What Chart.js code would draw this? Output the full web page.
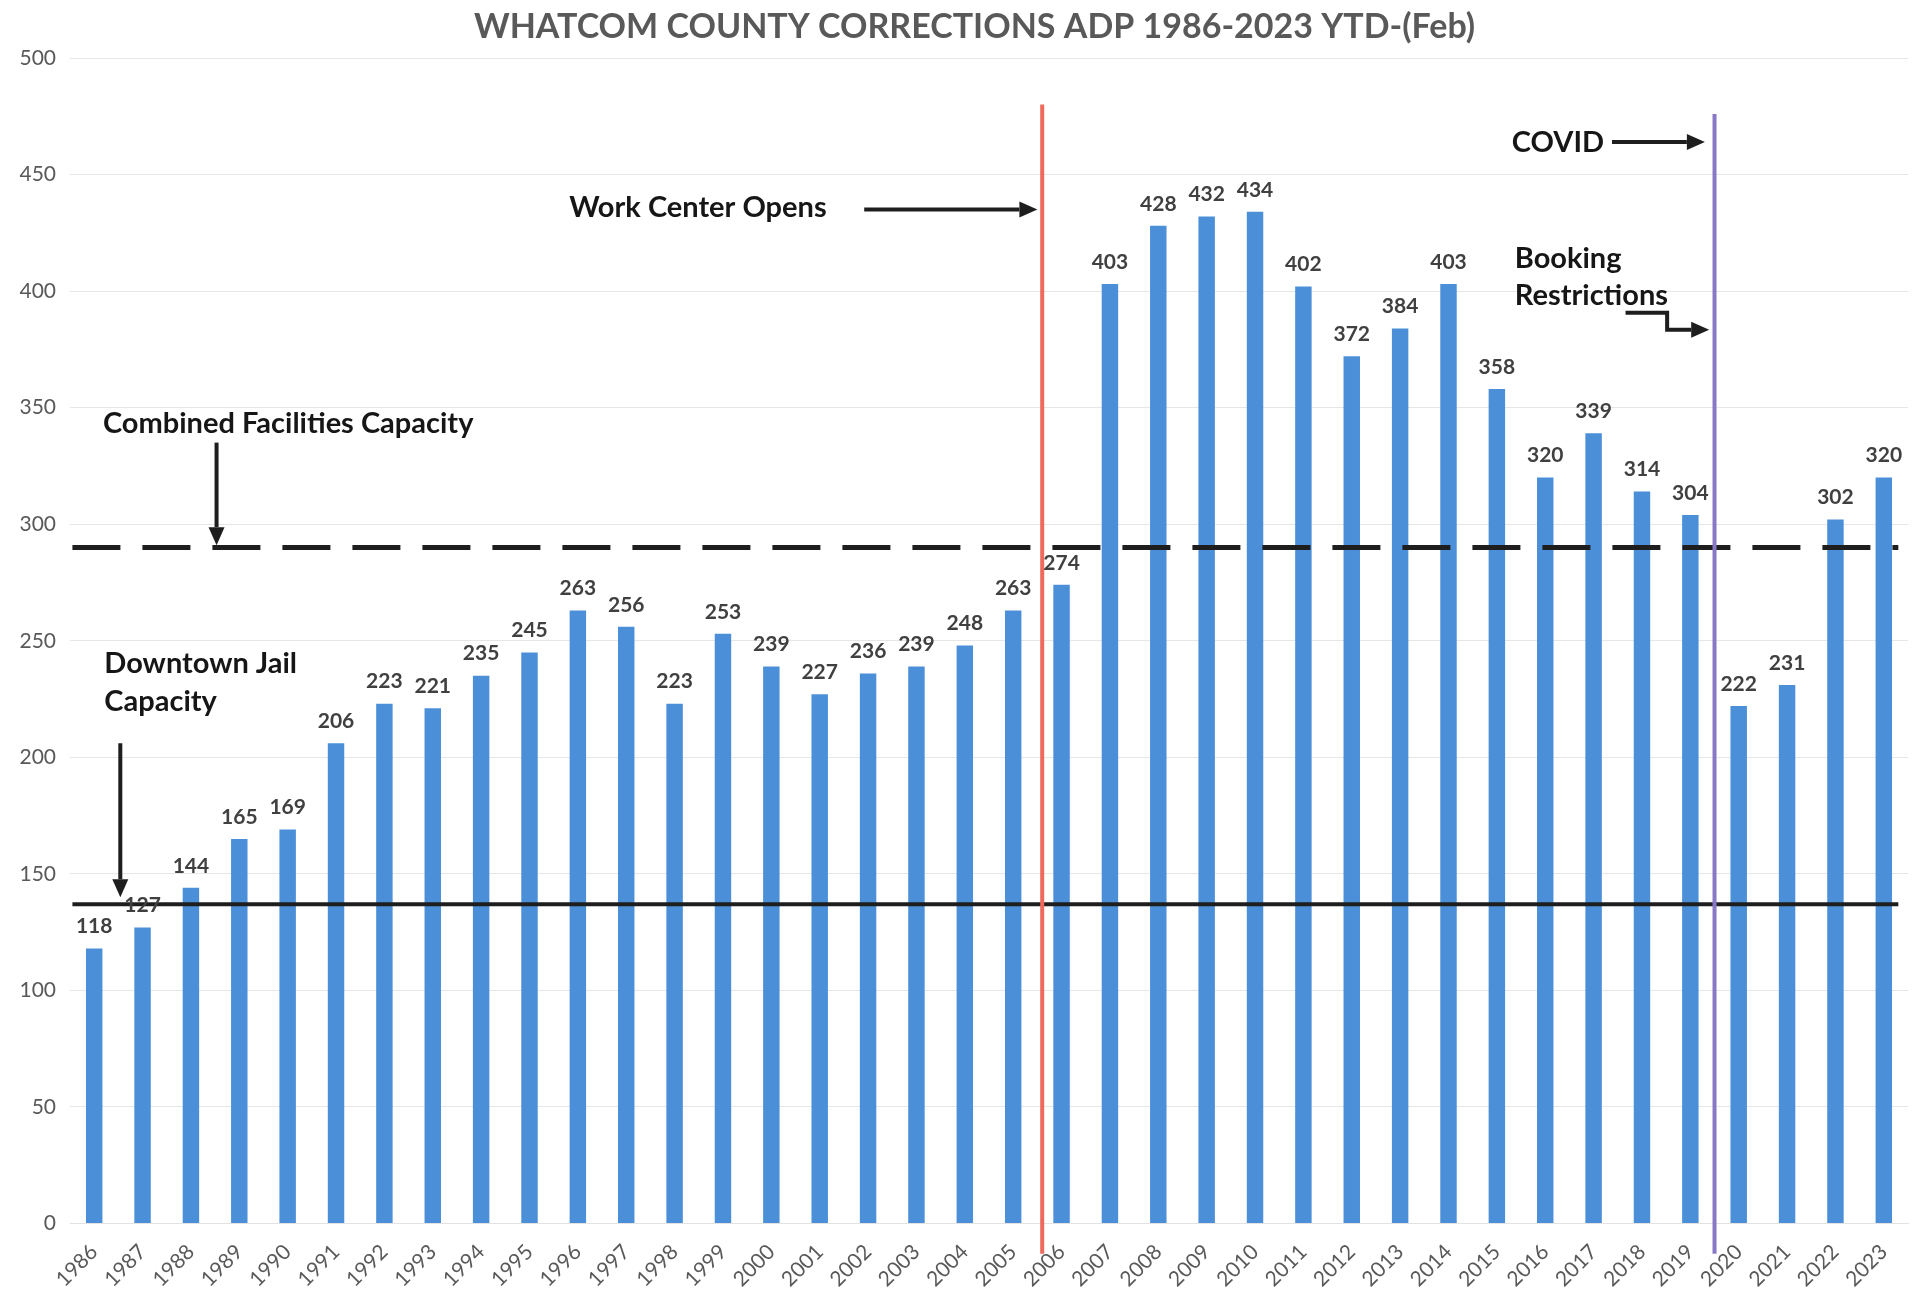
<!DOCTYPE html>
<html>
<head>
<meta charset="utf-8">
<script src="https://cdn.jsdelivr.net/npm/chart.js@4.4.1/dist/chart.umd.min.js"></script>
<style>
  html, body { margin: 0; padding: 0; background: #fff; }
  #wrap { width: 1928px; height: 1305px; position: relative; }
</style>
</head>
<body>
<div id="wrap"><canvas id="adp"></canvas></div>
<script>
const chartTitle = 'WHATCOM COUNTY CORRECTIONS ADP 1986-2023 YTD-(Feb)';
const years = ['1986', '1987', '1988', '1989', '1990', '1991', '1992', '1993', '1994', '1995',
  '1996', '1997', '1998', '1999', '2000', '2001', '2002', '2003', '2004', '2005',
  '2006', '2007', '2008', '2009', '2010', '2011', '2012', '2013', '2014', '2015',
  '2016', '2017', '2018', '2019', '2020', '2021', '2022', '2023'];
const adp = [118, 127, 144, 165, 169, 206, 223, 221, 235, 245,
  263, 256, 223, 253, 239, 227, 236, 239, 248, 263,
  274, 403, 428, 432, 434, 402, 372, 384, 403, 358,
  320, 339, 314, 304, 222, 231, 302, 320];
const yTicks = [0, 50, 100, 150, 200, 250, 300, 350, 400, 450, 500];

// capacity lines (value on the y axis)
const combinedCapacity = 290;
const downtownCapacity = 137;

// event markers: x is in category units (0 = 1986), top/bottom in y units
const events = [
  { at: 19.6, top: 480, bottom: -13, color: '#ee6a5a' },
  { at: 33.5, top: 476, bottom: -13, color: '#8878c6' }
];

// callout texts, positioned in category / value units
const notes = [
  { text: 'Combined Facilities Capacity', x: 0.18, y: 343 },
  { text: 'Downtown Jail', x: 0.21, y: 240 },
  { text: 'Capacity', x: 0.21, y: 224 },
  { text: 'Work Center Opens', x: 9.82, y: 436 },
  { text: 'COVID', x: 29.31, y: 463.5 },
  { text: 'Booking', x: 29.37, y: 414 },
  { text: 'Restrictions', x: 29.37, y: 398 }
];
const arrows = [
  [[2.53, 335], [2.53, 291]],
  [[0.54, 206], [0.54, 140]],
  [[15.92, 435], [19.5, 435]],
  [[31.38, 464], [33.3, 464]],
  [[31.66, 390.7], [32.52, 390.7], [32.52, 383.4], [33.39, 383.4]]
];

const FONT = 'Lato, "Open Sans", sans-serif';

const overlay = {
  id: 'overlay',
  afterDatasetsDraw(chart) {
    const { ctx } = chart;
    const xs = chart.scales.x, ys = chart.scales.y;
    const px = v => xs.getPixelForValue(v);
    const py = v => ys.getPixelForValue(v);
    ctx.save();

    // title (drawn here so it can sit a little right of the canvas centre, as in the scan)
    ctx.fillStyle = '#595959';
    ctx.font = 'bold 34px ' + FONT;
    ctx.textAlign = 'center';
    ctx.textBaseline = 'middle';
    ctx.fillText(chartTitle, px(18.2), 27);

    // capacity lines
    ctx.strokeStyle = '#1e1e1e';
    ctx.lineWidth = 5;
    ctx.setLineDash([48, 22]);
    ctx.beginPath();
    ctx.moveTo(px(-0.45), py(combinedCapacity));
    ctx.lineTo(px(37.3), py(combinedCapacity));
    ctx.stroke();
    ctx.setLineDash([]);
    ctx.lineWidth = 4;
    ctx.beginPath();
    ctx.moveTo(px(-0.45), py(downtownCapacity));
    ctx.lineTo(px(37.3), py(downtownCapacity));
    ctx.stroke();

    // event markers
    events.forEach(e => {
      ctx.strokeStyle = e.color;
      ctx.lineWidth = 4;
      ctx.beginPath();
      ctx.moveTo(px(e.at), py(e.top));
      ctx.lineTo(px(e.at), py(e.bottom));
      ctx.stroke();
    });

    // value labels
    const meta = chart.getDatasetMeta(0);
    ctx.fillStyle = '#404040';
    ctx.font = 'bold 21px ' + FONT;
    ctx.textAlign = 'center';
    ctx.textBaseline = 'middle';
    meta.data.forEach((bar, i) => {
      ctx.fillText(String(adp[i]), bar.x, bar.y - 22);
    });

    // callouts
    ctx.fillStyle = '#161616';
    ctx.font = 'bold 29px ' + FONT;
    ctx.textAlign = 'left';
    notes.forEach(n => ctx.fillText(n.text, px(n.x), py(n.y)));

    ctx.strokeStyle = '#1e1e1e';
    ctx.fillStyle = '#1e1e1e';
    ctx.lineWidth = 4;
    arrows.forEach(a => {
      const pts = a.map(p => [px(p[0]), py(p[1])]);
      const [tx, ty] = pts[pts.length - 1];
      const [sx, sy] = pts[pts.length - 2];
      const ang = Math.atan2(ty - sy, tx - sx);
      const head = 18, half = 8;
      const bx = tx - Math.cos(ang) * head, by = ty - Math.sin(ang) * head;
      ctx.beginPath();
      ctx.moveTo(pts[0][0], pts[0][1]);
      for (let i = 1; i < pts.length - 1; i++) ctx.lineTo(pts[i][0], pts[i][1]);
      ctx.lineTo(bx, by);
      ctx.stroke();
      ctx.beginPath();
      ctx.moveTo(tx, ty);
      ctx.lineTo(bx + Math.sin(ang) * half, by - Math.cos(ang) * half);
      ctx.lineTo(bx - Math.sin(ang) * half, by + Math.cos(ang) * half);
      ctx.closePath();
      ctx.fill();
    });
    ctx.restore();
  }
};

new Chart(document.getElementById('adp'), {
  type: 'bar',
  data: {
    labels: years,
    datasets: [{
      label: 'ADP',
      data: adp,
      backgroundColor: '#4a8fd8',
      borderWidth: 0,
      categoryPercentage: 1,
      barPercentage: 0.34
    }]
  },
  options: {
    responsive: true,
    maintainAspectRatio: false,
    animation: false,
    layout: { padding: { left: 0, right: 20, top: 58, bottom: 0 } },
    plugins: {
      legend: { display: false },
      tooltip: { enabled: false },
      title: { display: false }
    },
    scales: {
      x: {
        grid: { display: false },
        border: { color: '#e2e2e2', width: 1 },
        ticks: {
          color: '#595959',
          font: { family: FONT, size: 21 },
          minRotation: 45,
          maxRotation: 45,
          autoSkip: false,
          padding: 8
        },
        afterFit(scale) { scale.height = 81.5; }
      },
      y: {
        min: 0,
        max: 500,
        afterBuildTicks(scale) { scale.ticks = yTicks.map(v => ({ value: v })); },
        grid: { color: '#e6e6e6', drawTicks: false },
        border: { display: false },
        ticks: {
          color: '#595959',
          font: { family: FONT, size: 21 },
          padding: 14
        },
        afterFit(scale) { scale.width = 70; }
      }
    }
  },
  plugins: [overlay]
});
</script>
</body>
</html>
